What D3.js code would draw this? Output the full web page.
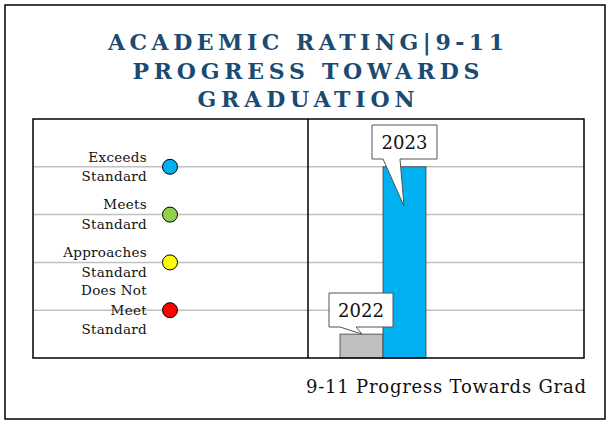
<!DOCTYPE html>
<html lang="en">
<head>
    <meta charset="UTF-8">
    <title>Academic Rating 9-11</title>
    <script src="https://d3js.org/d3.v7.min.js"></script>
    <style>
        body { margin: 0; background: #fff; }
        text { font-family: "DejaVu Serif", "Liberation Serif", serif; }
    </style>
</head>
<body>
    <svg width="610" height="422"></svg>
    <script>
        // Daten
        var titleLines = ["ACADEMIC RATING|9-11", "PROGRESS TOWARDS", "GRADUATION"];
        var titleWidths = [396, 347, 217];
        var years = ["2022", "2023"];
        var values = [0.5, 4];
        var barColors = ["#bfbfbf", "#00b0f0"];
        var levels = [4, 3, 2, 1];
        var levelLabels = [["Exceeds", "Standard"], ["Meets", "Standard"], ["Approaches", "Standard"], ["Does Not", "Meet", "Standard"]];
        var levelColors = ["#00b0f0", "#92d050", "#ffff00", "#ff0000"];
        var axisTitle = "9-11 Progress Towards Grad";

        var svg = d3.select('svg');

        // Rahmen
        svg.append('rect').attr('x', 5).attr('y', 5).attr('width', 600).attr('height', 414)
            .attr('fill', 'none').attr('stroke', '#000').attr('stroke-width', 1.5);

        // Titel
        svg.selectAll('.title').data(titleLines).enter().append('text')
            .attr('x', 306).attr('y', function(d, i) { return 50 + i * 28.5; })
            .attr('text-anchor', 'middle')
            .attr('fill', '#1b4a72').attr('font-weight', 'bold')
            .attr('font-size', 22)
            .attr('textLength', function(d, i) { return titleWidths[i]; })
            .attr('lengthAdjust', 'spacing')
            .text(function(d) { return d; });

        var plotL = 33, plotR = 584, plotT = 119, plotB = 358, split = 308;
        var y = d3.scaleLinear().domain([0, 5]).range([plotB, plotT]);
        var x = d3.scaleBand().domain(years).range([340, 426]).padding(0);

        // Gitternetzlinien
        svg.selectAll('.grid').data(levels).enter().append('line')
            .attr('x1', plotL).attr('x2', plotR)
            .attr('y1', function(d) { return y(d); }).attr('y2', function(d) { return y(d); })
            .attr('stroke', '#c0c0c0').attr('stroke-width', 1.5);

        // Balken
        svg.selectAll('.bar').data(years).enter().append('rect')
            .attr('x', function(d) { return x(d); })
            .attr('y', function(d, i) { return y(values[i]); })
            .attr('width', x.bandwidth())
            .attr('height', function(d, i) { return plotB - y(values[i]); })
            .attr('fill', function(d, i) { return barColors[i]; })
            .attr('stroke', '#404040').attr('stroke-width', 0.8);

        // Diagrammrahmen
        svg.append('rect').attr('x', plotL).attr('y', plotT).attr('width', plotR - plotL).attr('height', plotB - plotT)
            .attr('fill', 'none').attr('stroke', '#000').attr('stroke-width', 1.5);
        svg.append('line').attr('x1', split).attr('x2', split).attr('y1', plotT).attr('y2', plotB)
            .attr('stroke', '#000').attr('stroke-width', 1.5);

        // Legende / Stufen
        levels.forEach(function(lv, i) {
            svg.append('circle').attr('cx', 170).attr('cy', y(lv)).attr('r', 7.5)
                .attr('fill', levelColors[i]).attr('stroke', '#000').attr('stroke-width', 1);
            var lines = levelLabels[i];
            var lh = 19.5;
            lines.forEach(function(t, j) {
                svg.append('text')
                    .attr('x', 147)
                    .attr('y', y(lv) + (j - (lines.length - 1) / 2) * lh + 4.5)
                    .attr('text-anchor', 'end')
                    .attr('font-size', 13.5).attr('letter-spacing', 0.3).attr('fill', '#111')
                    .text(t);
            });
        });

        // Beschriftungen mit Sprechblasen
        var callouts = [
            { box: [329, 293, 64, 34], tip: [362, y(values[0])], base: [340, 356] },
            { box: [372, 125, 65, 34], tip: [404, 206], base: [383, 400] }
        ];
        years.forEach(function(yr, i) {
            var c = callouts[i], b = c.box;
            var bx = b[0], by = b[1], bw = b[2], bh = b[3];
            var p = 'M' + bx + ',' + by + 'H' + (bx + bw) + 'V' + (by + bh) +
                'H' + c.base[1] + 'L' + c.tip[0] + ',' + c.tip[1] + 'L' + c.base[0] + ',' + (by + bh) +
                'H' + bx + 'Z';
            svg.append('path').attr('d', p).attr('fill', '#fff').attr('stroke', '#555').attr('stroke-width', 1);
            svg.append('text').attr('x', bx + bw / 2).attr('y', by + bh / 2 + 7)
                .attr('text-anchor', 'middle').attr('font-size', 18).attr('fill', '#111')
                .text(yr);
        });

        // Achsentitel
        svg.append('text').attr('x', 586).attr('y', 393).attr('text-anchor', 'end')
            .attr('font-size', 18).attr('textLength', 280).attr('lengthAdjust', 'spacing')
            .attr('fill', '#111').text(axisTitle);
    </script>
</body>
</html>
